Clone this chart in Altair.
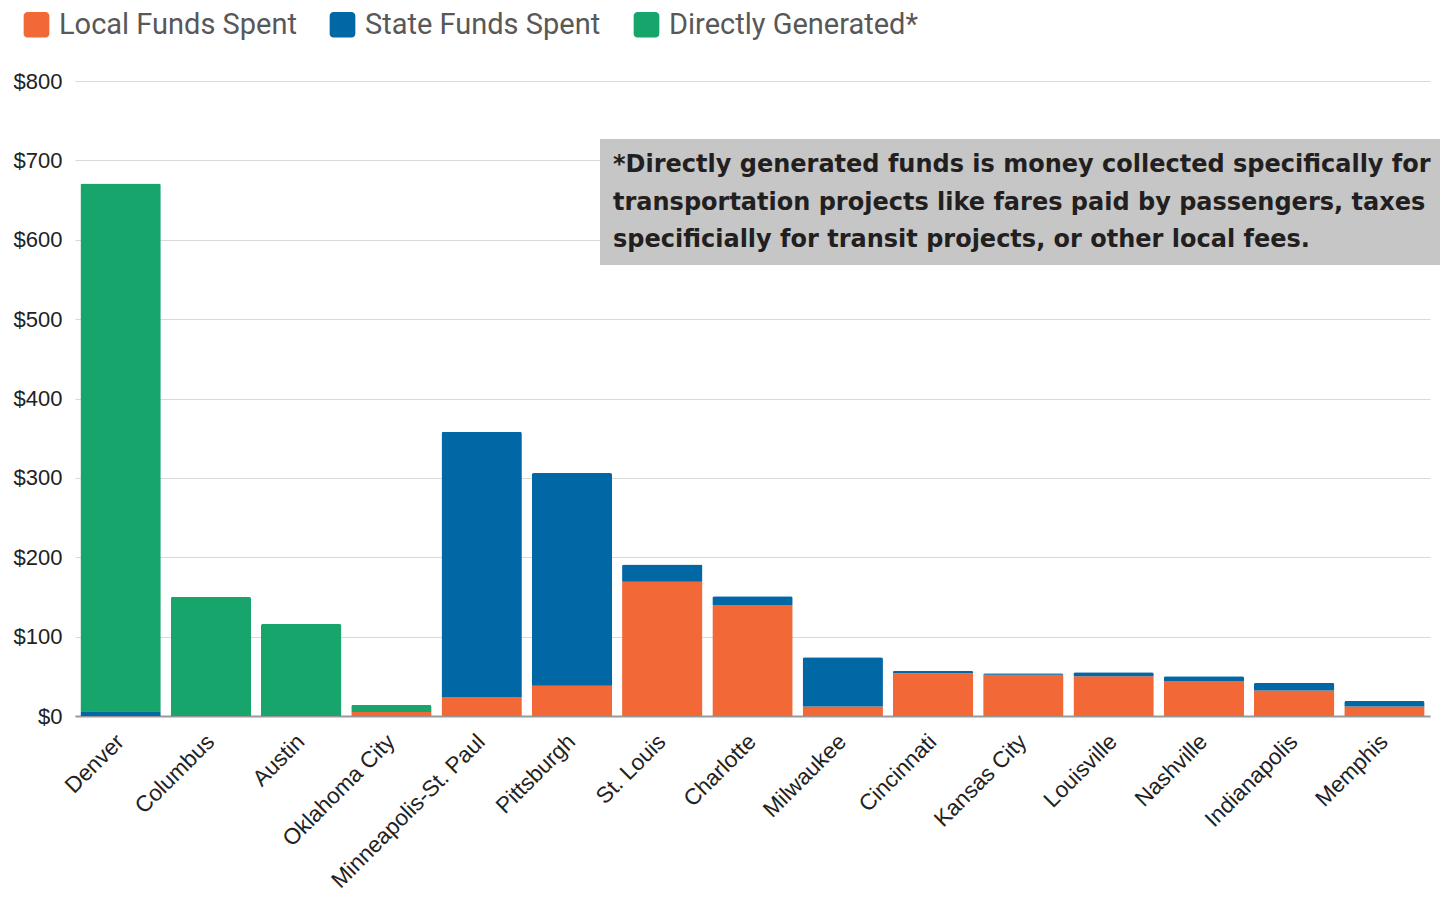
import altair as alt
import pandas as pd

cities = ["Denver", "Columbus", "Austin", "Oklahoma City", "Minneapolis-St. Paul",
          "Pittsburgh", "St. Louis", "Charlotte", "Milwaukee", "Cincinnati",
          "Kansas City", "Louisville", "Nashville", "Indianapolis", "Memphis"]
local_funds = [0, 0, 0, 5, 24, 38, 169, 140, 12, 54, 52, 50, 44, 32, 12]
state_funds = [6, 0, 0, 0, 334, 268, 22, 11, 62, 3, 2, 5, 6, 10, 7]
direct_funds = [665, 150, 116, 9, 0, 0, 0, 0, 0, 0, 0, 0, 0, 0, 0]

series = ["Local Funds Spent", "State Funds Spent", "Directly Generated*"]
colors = ["#f26836", "#0167a5", "#17a56b"]
y_ticks = [0, 100, 200, 300, 400, 500, 600, 700, 800]

note_lines = [
    "*Directly generated funds is money collected specifically for",
    "transportation projects like fares paid by passengers, taxes",
    "specificially for transit projects, or other local fees.",
]

rows = []
for i, c in enumerate(cities):
    for s_idx, vals in enumerate([local_funds, state_funds, direct_funds]):
        rows.append({"city": c, "series": series[s_idx], "order": s_idx, "value": vals[i]})
df = pd.DataFrame(rows)

W, H = 1355, 635

bars = alt.Chart(df).mark_bar(cornerRadiusTopLeft=2, cornerRadiusTopRight=2).encode(
    x=alt.X("city:N", sort=cities, title=None,
            scale=alt.Scale(paddingInner=0.11, paddingOuter=0.06),
            axis=alt.Axis(labelAngle=-45, labelFont="Liberation Sans", labelFontSize=22.5,
                          labelColor="#222222", ticks=False, domain=True,
                          domainColor="#999999", domainWidth=2, labelPadding=14,
                          labelOffset=-8,
                          labelAlign="right", labelBaseline="top", labelLimit=400,
                          labelOverlap=False, grid=False)),
    y=alt.Y("value:Q", stack="zero", title=None,
            scale=alt.Scale(domain=[0, 800], nice=False),
            axis=alt.Axis(values=y_ticks, labelExpr="'$' + datum.value",
                          labelFont="Liberation Sans", labelFontSize=22,
                          labelColor="#222222", ticks=False, domain=False,
                          labelPadding=13, gridColor="#d9d9d9", gridWidth=1.2)),
    color=alt.Color("series:N", sort=series,
                    scale=alt.Scale(domain=series, range=colors),
                    legend=alt.Legend(title=None, orient="none", legendX=-53, legendY=-71,
                                      direction="horizontal",
                                      symbolType="M -0.7 -1 L 0.7 -1 A 0.3 0.3 0 0 1 1 -0.7 L 1 0.7 A 0.3 0.3 0 0 1 0.7 1 L -0.7 1 A 0.3 0.3 0 0 1 -1 0.7 L -1 -0.7 A 0.3 0.3 0 0 1 -0.7 -1 Z",
                                      symbolSize=660, symbolStrokeWidth=0, symbolOpacity=1,
                                      labelFont="Roboto", labelFontSize=29,
                                      labelColor="#585858", labelOffset=8,
                                      columnPadding=31, labelLimit=400)),
    order=alt.Order("order:Q"),
)

box = alt.Chart(pd.DataFrame({"a": [0]})).mark_rect(color="#c6c6c6").encode(
    x=alt.value(525), x2=alt.value(1365), y=alt.value(58), y2=alt.value(184)
)

note = alt.Chart(pd.DataFrame({"a": [0]})).mark_text(
    text=note_lines, align="left", baseline="middle", font="DejaVu Sans",
    fontWeight="bold", fontSize=24, lineHeight=37.5, color="#231f20"
).encode(x=alt.value(538), y=alt.value(84))

chart = alt.layer(bars, box, note).properties(
    width=W, height=H,
    background="white",
    autosize=alt.AutoSizeParams(type="none"),
    padding={"left": 75, "top": 81, "right": 10, "bottom": 182},
).configure_view(strokeWidth=0, stroke="transparent")

chart.save("out.html", embed_options={"renderer": "svg", "actions": False})
